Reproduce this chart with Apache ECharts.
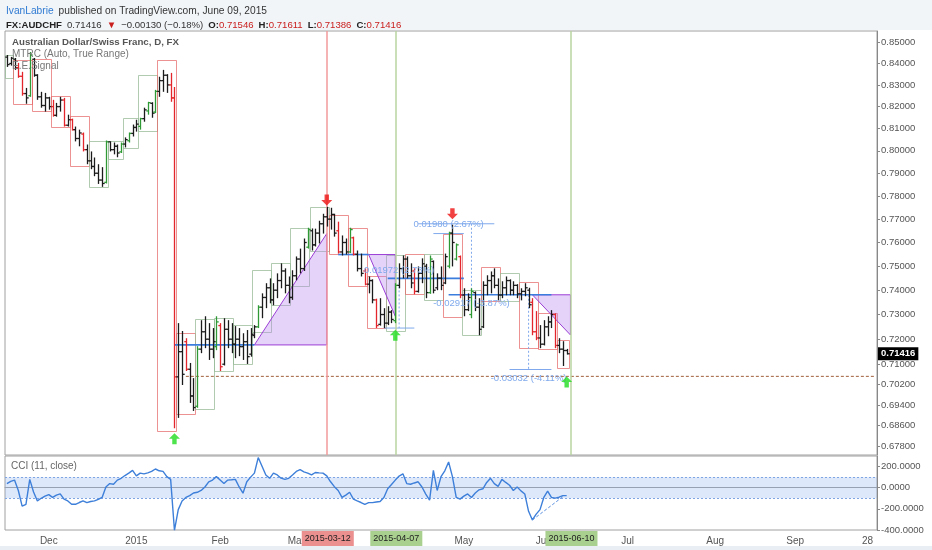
<!DOCTYPE html>
<html>
<head>
<meta charset="utf-8">
<title>AUDCHF daily</title>
<script src="https://cdn.jsdelivr.net/npm/echarts@6.0.0/dist/echarts.min.js"></script>
<style>
html,body{margin:0;padding:0;background:#fff;}
#chart{width:932px;height:550px;}
</style>
</head>
<body>
<div id="chart"></div>
<script>
// ---------- calendar (weekday trading days) ----------
const startDate = '2014-11-14';
const weekdayCount = 229;

// ---------- price bars [open, high, low, close] ----------
const ohlc = [
[.8430,.8440,.8384,.8395],[.8400,.8431,.8390,.8425],[.8420,.8426,.8370,.8380],[.8380,.8403,.8333,.8340],[.8340,.8361,.8250,.8260],
[.8260,.8286,.8213,.8240],[.8250,.8454,.8245,.8440],[.8420,.8426,.8338,.8345],[.8345,.8350,.8231,.8245],[.8245,.8268,.8195,.8205],
[.8205,.8263,.8177,.8240],[.8240,.8245,.8186,.8200],[.8200,.8231,.8154,.8160],[.8160,.8217,.8154,.8200],[.8200,.8245,.8177,.8230],
[.8230,.8240,.8109,.8115],[.8115,.8163,.8109,.8140],[.8140,.8145,.8091,.8095],[.8095,.8109,.8042,.8055],[.8055,.8095,.8020,.8080],
[.8075,.8082,.7997,.8005],[.8005,.8028,.7940,.7955],[.7955,.7997,.7918,.7930],[.7930,.7970,.7887,.7900],[.7900,.7940,.7853,.7870],
[.7870,.7927,.7840,.7855],[.7860,.8046,.7855,.8040],[.8040,.8042,.7997,.8005],[.8005,.8037,.7984,.8020],[.8020,.8028,.7971,.7990],
[.7995,.8037,.7990,.8030],[.8030,.8060,.8015,.8050],[.8045,.8082,.8037,.8078],[.8078,.8118,.8064,.8105],[.8105,.8140,.8086,.8120],
[.8110,.8149,.8095,.8145],[.8145,.8195,.8131,.8185],[.8180,.8222,.8163,.8218],[.8215,.8220,.8149,.8170],[.8175,.8277,.8170,.8270],
[.8270,.8338,.8245,.8320],[.8320,.8370,.8268,.8345],[.8345,.8350,.8263,.8300],[.8300,.8356,.8222,.8240],[.8240,.8290,.6850,.7050],
[.7050,.7265,.6890,.7150],[.7150,.7233,.7018,.7060],[.7190,.7204,.7073,.7080],[.7080,.7105,.6948,.6975],[.6975,.7045,.6917,.6930],
[.6935,.7172,.6929,.7160],[.7160,.7277,.7144,.7230],[.7230,.7293,.7164,.7200],[.7200,.7265,.7117,.7160],[.7160,.7245,.7124,.7190],
[.7170,.7293,.7156,.7270],[.7255,.7265,.7073,.7090],[.7100,.7285,.7095,.7240],[.7240,.7277,.7164,.7200],[.7200,.7265,.7144,.7180],
[.7180,.7253,.7124,.7200],[.7200,.7245,.7132,.7170],[.7170,.7224,.7117,.7190],[.7190,.7237,.7101,.7130],[.7140,.7245,.7130,.7220],
[.7215,.7257,.7204,.7250],[.7250,.7338,.7245,.7330],[.7330,.7387,.7285,.7370],[.7370,.7429,.7326,.7410],[.7410,.7449,.7346,.7360],
[.7360,.7429,.7338,.7400],[.7400,.7470,.7367,.7440],[.7440,.7512,.7408,.7480],[.7480,.7491,.7387,.7420],[.7420,.7457,.7346,.7370],
[.7370,.7483,.7360,.7460],[.7460,.7541,.7441,.7530],[.7530,.7574,.7470,.7490],[.7490,.7617,.7480,.7600],[.7580,.7663,.7574,.7655],
[.7650,.7660,.7566,.7590],[.7590,.7659,.7583,.7640],[.7640,.7693,.7596,.7680],[.7680,.7723,.7638,.7710],[.7710,.7753,.7668,.7700],
[.7700,.7749,.7655,.7720],[.7720,.7723,.7625,.7640],[.7650,.7689,.7553,.7560],[.7560,.7630,.7545,.7600],[.7600,.7617,.7549,.7560],
[.7560,.7663,.7555,.7655],[.7620,.7625,.7545,.7550],[.7550,.7566,.7478,.7490],[.7490,.7553,.7457,.7470],[.7480,.7491,.7420,.7425],
[.7425,.7457,.7387,.7440],[.7440,.7445,.7346,.7360],[.7360,.7365,.7245,.7255],[.7260,.7367,.7255,.7300],[.7300,.7326,.7245,.7265],
[.7265,.7334,.7257,.7310],[.7310,.7318,.7265,.7280],[.7275,.7429,.7265,.7420],[.7420,.7512,.7408,.7490],[.7490,.7545,.7449,.7530],
[.7530,.7541,.7449,.7460],[.7460,.7512,.7408,.7430],[.7480,.7491,.7383,.7395],[.7395,.7499,.7390,.7470],[.7470,.7533,.7429,.7510],
[.7500,.7510,.7367,.7390],[.7390,.7545,.7385,.7530],[.7520,.7524,.7387,.7400],[.7410,.7470,.7400,.7450],[.7450,.7499,.7400,.7420],
[.7430,.7553,.7425,.7540],[.7500,.7646,.7491,.7640],[.7640,.7676,.7499,.7600],[.7530,.7596,.7524,.7590],[.7540,.7545,.7367,.7380],
[.7380,.7408,.7293,.7320],[.7320,.7387,.7314,.7370],[.7300,.7408,.7285,.7395],[.7390,.7395,.7314,.7330],[.7330,.7367,.7216,.7240],
[.7250,.7437,.7245,.7420],[.7420,.7462,.7379,.7440],[.7440,.7478,.7387,.7460],[.7460,.7491,.7408,.7420],[.7420,.7449,.7358,.7380],
[.7380,.7437,.7367,.7410],[.7410,.7457,.7379,.7440],[.7440,.7445,.7379,.7400],[.7400,.7437,.7379,.7420],[.7420,.7425,.7367,.7385],
[.7385,.7408,.7358,.7395],[.7395,.7429,.7375,.7410],[.7400,.7410,.7326,.7340],[.7350,.7367,.7216,.7230],[.7230,.7314,.7196,.7205],
[.7205,.7257,.7164,.7180],[.7180,.7277,.7175,.7250],[.7250,.7293,.7212,.7270],[.7270,.7318,.7245,.7300],[.7300,.7305,.7164,.7175],
[.7175,.7204,.7144,.7160],[.7160,.7192,.7093,.71546],[.71546,.71611,.71386,.71416]
];

// E.E.Signal bar colouring: k = neutral, r = sell, g = buy
const barSignal = [
 'kkkrrkgkkk','kkrkkrkrkk','rkkkkkgkkk','gkgkkgkgkg','kkkrrkkrkk',
 'gkkkkgrkkk','kkkkkkgkkk','kkkkkkkkkg','kkkkkkkrkk','grkkrkkrkk',
 'kkgkkkkrkk','kgkkkkgkgr','kkgkkkkkkk','kkkkkkkkrr','kkkkrkkk'
].join('');

// MTRC range boxes [fromBar, toBar, low, high, kind]
const rangeBoxes = [
[0,1,.8333,.8440,'g'],[2,6,.8213,.8417,'r'],[7,11,.8181,.8421,'r'],[12,16,.8105,.8249,'r'],
[17,21,.7931,.8158,'r'],[22,26,.7840,.8046,'g'],[27,30,.7962,.8042,'g'],[31,34,.8015,.8149,'g'],
[35,39,.8091,.8347,'g'],[40,44,.6840,.8417,'r'],[45,49,.6906,.7224,'r'],[50,54,.6922,.7281,'g'],
[55,59,.7073,.7285,'g'],[60,64,.7101,.7257,'g'],[65,69,.7229,.7482,'g'],[70,74,.7338,.7512,'g'],
[75,79,.7420,.7663,'g'],[80,84,.7566,.7753,'g'],[85,89,.7553,.7719,'r'],[90,94,.7420,.7663,'r'],
[95,99,.7245,.7457,'r'],[100,104,.7233,.7549,'g'],[105,109,.7387,.7553,'r'],[110,114,.7362,.7553,'g'],
[115,119,.7293,.7638,'r'],[120,124,.7216,.7399,'g'],[125,129,.7354,.7495,'r'],[130,134,.7354,.7470,'g'],
[135,139,.7164,.7433,'r'],[140,144,.7160,.7305,'r'],[145,147,.7085,.7196,'r']
];

// CCI (11, close)
const cci = [
39,60,72,-26,-174,-157,79,-40,-125,-100,
-80,-66,-92,-70,-59,-108,-125,-157,-157,-140,
-125,-141,-130,-125,-110,-92,7,39,33,72,
89,115,138,164,112,138,131,140,154,177,
160,154,105,79,-403,-207,-125,-92,-75,-50,
-43,-26,7,56,72,105,72,39,72,75,
79,7,-52,56,100,138,285,203,120,89,
138,121,90,79,89,120,154,171,150,138,
121,144,140,138,112,56,10,-26,-92,-70,
-43,-108,-125,-140,-157,-141,-141,-135,-131,-92,
-10,30,72,110,131,39,33,45,56,7,
-60,-118,164,-26,105,160,243,105,-92,-108,
-80,-59,-92,-50,-20,-10,50,89,39,13,
79,50,23,-26,7,-30,-59,-223,-305,-250,
-207,-92,-33,-92,-98,-90,-75,-75
];
const cciBandUpper = 100;
const cciBandLower = -100;
const cciDivergence = [[138,-305],[146,-85]];

// drawings
const triangles = [
[[65,.7177],[84,.7638],[84,.7177]],
[[95,.7549],[102,.7549],[102,.7293]],
[[138,.7381],[148,.7381],[148,.7217]]
];
const trendLines = [[44,.7177,65,.7177],[87,.7549,95,.7549],[100,.7449,120,.7449],[116,.7381,143,.7381]];
const measureLines = [[99,.7245,107,.7245],[108,.7680,128,.7680],[112,.7638,120,.7638],[132,.7079,143,.7079]];
const measureDrops = [[103,.7449,103,.7245],[122,.7680,122,.7381],[137,.7381,137,.7079]];
const measureTexts = [[103,.7483,'0.01972 (2.73%)'],[116,.7676,'0.01980 (2.67%)'],[122,.7346,'-0.02917 (-3.87%)'],[137,.7045,'-0.03032 (-4.11%)']];
const buyArrows = [[44,.6810],[102,.7216],[147,.7030]];
const sellArrows = [[84,.7783],[117,.7723]];
const supportLevel = 0.7052;
const supportFrom = 47;
const eventDates = ['2015-03-12','2015-04-07','2015-06-10'];
const eventKinds = ['sell','buy','buy'];

// axis ticks
const priceTicks = [0.85,0.84,0.83,0.82,0.81,0.80,0.79,0.78,0.77,0.76,0.75,0.74,0.73,0.72,0.71,0.702,0.694,0.686,0.678];
const cciTicks = [200,0,-200,-400];
const dateLabels = [['2014-12-01','Dec'],['2015-01-01','2015'],['2015-02-02','Feb'],['2015-03-02','Mar'],['2015-04-01','Apr'],
  ['2015-05-01','May'],['2015-06-01','Jun'],['2015-07-01','Jul'],['2015-08-03','Aug'],['2015-09-01','Sep'],['2015-09-28','28']];

// ---------- build ----------
function buildDays() {
  const out = [];
  const d = new Date(startDate + 'T00:00:00Z');
  while (out.length < weekdayCount) {
    const wd = d.getUTCDay();
    if (wd !== 0 && wd !== 6) out.push(d.toISOString().slice(0, 10));
    d.setUTCDate(d.getUTCDate() + 1);
  }
  return out;
}
const days = buildDays();
const labelMap = new Map(dateLabels);
const FONT = 'Liberation Sans, Arial, sans-serif';
const SIG = {k: 0, r: 1, g: 2};
const SIG_COLORS = ['#1b1b1b', '#e3262b', '#2f9a35'];

const last = ohlc[ohlc.length - 1];
const lastIdx = ohlc.length - 1;
const prevClose = ohlc[ohlc.length - 2][3];
const chg = last[3] - prevClose;
const fmt5 = v => v.toFixed(5);
const signed = v => (v < 0 ? '\u2212' : '+') + Math.abs(v).toFixed(5);
const pct = (chg / prevClose * 100);
const pctTxt = (pct < 0 ? '\u2212' : '+') + Math.abs(pct).toFixed(2) + '%';

const chart = echarts.init(document.getElementById('chart'));

function renderBar(params, api) {
  const i = api.value(0);
  const pO = api.coord([i, api.value(1)]);
  const pH = api.coord([i, api.value(2)]);
  const pL = api.coord([i, api.value(3)]);
  const pC = api.coord([i, api.value(4)]);
  const col = SIG_COLORS[api.value(5)];
  const x = Math.round(pH[0]) + 0.5;
  const w = 1.3;
  return {type: 'group', children: [
    {type: 'line', shape: {x1: x, y1: pH[1], x2: x, y2: pL[1]}, style: {stroke: col, lineWidth: w}},
    {type: 'line', shape: {x1: x - 2.2, y1: pO[1], x2: x, y2: pO[1]}, style: {stroke: col, lineWidth: w}},
    {type: 'line', shape: {x1: x, y1: pC[1], x2: x + 2.2, y2: pC[1]}, style: {stroke: col, lineWidth: w}}
  ]};
}
function renderBox(params, api) {
  const a = api.coord([api.value(0), api.value(3)]);
  const b = api.coord([api.value(1), api.value(2)]);
  const col = api.value(4) === 1 ? 'rgba(230,100,100,0.7)' : 'rgba(150,185,150,0.75)';
  return {type: 'rect', shape: {x: Math.round(a[0] - 2) + 0.5, y: Math.round(a[1]) + 0.5,
    width: Math.round(b[0] - a[0] + 4), height: Math.round(b[1] - a[1])},
    style: {fill: 'none', stroke: col, lineWidth: 1}};
}
function renderTriangle(params, api) {
  const pts = [0, 1, 2].map(k => api.coord([api.value(k * 2), api.value(k * 2 + 1)]));
  return {type: 'polygon', shape: {points: pts}, style: {fill: 'rgba(190,140,240,0.38)', stroke: '#9b3fd6', lineWidth: 1}};
}
function renderSegment(params, api) {
  const a = api.coord([api.value(0), api.value(1)]);
  const b = api.coord([api.value(2), api.value(3)]);
  const kind = api.value(4);
  const style = kind === 0 ? {stroke: '#3b7ddd', lineWidth: 1.6}
    : kind === 1 ? {stroke: '#7fa9ec', lineWidth: 1}
    : {stroke: '#7fa9ec', lineWidth: 1, lineDash: [2, 2]};
  return {type: 'line', shape: {x1: a[0], y1: a[1], x2: b[0], y2: b[1]}, style: style};
}
function renderText(params, api) {
  const p = api.coord([api.value(0), api.value(1)]);
  return {type: 'text', x: p[0], y: p[1], style: {text: measureTexts[params.dataIndex][2], fill: '#7fa9ec',
    font: '9.5px ' + FONT, align: 'center', verticalAlign: 'middle'}};
}
function renderLastPrice(params, api) {
  const p = api.coord([api.value(0), api.value(1)]);
  const cs = params.coordSys;
  return {type: 'text', x: cs.x + cs.width + 1, y: p[1], z2: 100, style: {text: fmt5(api.value(1)), fill: '#fff',
    font: 'bold 9.5px ' + FONT, align: 'left', verticalAlign: 'middle', backgroundColor: '#000', padding: [2, 3, 1, 3]}};
}
const eventColor = k => (k === 'sell' ? '#f29a9a' : '#b9d59f');
const eventBoxColor = k => (k === 'sell' ? '#ec8f8f' : '#a9d08f');
function renderDateBox(params, api) {
  const p = api.coord([api.value(0), -400]);
  const k = params.dataIndex;
  return {type: 'text', x: p[0] + 1, y: p[1] + 1, z2: 100, style: {text: eventDates[k], fill: '#222', font: '9px ' + FONT,
    align: 'center', verticalAlign: 'top', backgroundColor: eventBoxColor(eventKinds[k]), padding: [3, 3, 3, 3]}};
}

const segData = []
  .concat(trendLines.map(s => s.concat([0])))
  .concat(measureLines.map(s => s.concat([1])))
  .concat(measureDrops.map(s => s.concat([2])));

const arrowPath = 'path://M5,0 L10,5 L7,5 L7,10 L3,10 L3,5 L0,5 Z';

const option = {
  animation: false,
  backgroundColor: '#ffffff',
  textStyle: {fontFamily: FONT},
  title: [
    {left: 6, top: 2, padding: 0,
     text: '{u|IvanLabrie} {t|published on TradingView.com, June 09, 2015}',
     textStyle: {fontWeight: 'normal', rich: {
       u: {color: '#2f7bd2', fontSize: 10.2, fontWeight: 'normal', fontFamily: FONT},
       t: {color: '#333', fontSize: 10.2, fontWeight: 'normal', fontFamily: FONT}}}},
    {left: 6, top: 16, padding: 0,
     text: '{b|FX:AUDCHF} {n|' + fmt5(last[3]) + '} {r|\u25BC} {n|' + signed(chg) + ' (' + pctTxt + ')} ' +
           '{b|O:}{v|' + fmt5(last[0]) + '} {b|H:}{v|' + fmt5(last[1]) + '} {b|L:}{v|' + fmt5(last[2]) + '} {b|C:}{v|' + fmt5(last[3]) + '}',
     textStyle: {fontWeight: 'normal', rich: {
       b: {color: '#222', fontWeight: 'bold', fontSize: 9.6, fontFamily: FONT},
       n: {color: '#333', fontWeight: 'normal', fontSize: 9.6, fontFamily: FONT},
       r: {color: '#c9201f', fontWeight: 'normal', fontSize: 9.6, fontFamily: FONT},
       v: {color: '#c9201f', fontWeight: 'normal', fontSize: 9.6, fontFamily: FONT}}}}
  ],
  graphic: [
    {type: 'rect', left: 0, top: 0, z: -10, shape: {width: 932, height: 30}, style: {fill: '#f2f5f8'}},
    {type: 'rect', left: 0, top: 546, z: -10, shape: {width: 932, height: 4}, style: {fill: '#e8eef4'}},
    {type: 'text', left: 12, top: 37, z: 10, style: {text: 'Australian Dollar/Swiss Franc, D, FX', fill: '#555', font: 'bold 9.7px ' + FONT}},
    {type: 'text', left: 12, top: 49, z: 10, style: {text: 'MTRC (Auto, True Range)', fill: '#777', font: '10px ' + FONT}},
    {type: 'text', left: 12, top: 61, z: 10, style: {text: 'E.E.Signal', fill: '#777', font: '10px ' + FONT}},
    {type: 'text', left: 11, top: 461, z: 10, style: {text: 'CCI (11, close)', fill: '#666', font: '10px ' + FONT}}
  ],
  grid: [
    {left: 5, right: 55, top: 31, height: 424, show: true, backgroundColor: '#fff', borderColor: '#a0a0a0', borderWidth: 1},
    {left: 5, right: 55, top: 456, height: 74, show: true, backgroundColor: '#fff', borderColor: '#a0a0a0', borderWidth: 1}
  ],
  xAxis: [
    {type: 'category', gridIndex: 0, data: days, boundaryGap: true,
     axisLine: {show: false}, axisTick: {show: false}, axisLabel: {show: false}, splitLine: {show: false}},
    {type: 'category', gridIndex: 1, data: days, boundaryGap: true,
     axisLine: {show: true, lineStyle: {color: '#a0a0a0'}}, axisTick: {show: false},
     axisLabel: {interval: (idx, val) => labelMap.has(val), formatter: val => labelMap.get(val) || '',
       color: '#555', fontSize: 10, margin: 6, fontFamily: FONT},
     splitLine: {show: false}}
  ],
  yAxis: [
    {type: 'log', gridIndex: 0, position: 'right', min: 0.67486, max: 0.8554,
     axisLine: {show: true, lineStyle: {color: '#888'}},
     axisTick: {show: true, customValues: priceTicks, length: 3, lineStyle: {color: '#888'}},
     axisLabel: {customValues: priceTicks, formatter: v => Number(v).toFixed(5), color: '#555', fontSize: 9.5, margin: 4, fontFamily: FONT},
     splitLine: {show: false}},
    {type: 'value', gridIndex: 1, position: 'right', min: -400, max: 300,
     axisLine: {show: true, lineStyle: {color: '#888'}},
     axisTick: {show: true, customValues: cciTicks, length: 3, lineStyle: {color: '#888'}},
     axisLabel: {customValues: cciTicks, formatter: v => Number(v).toFixed(4), color: '#555', fontSize: 9.5, margin: 4, fontFamily: FONT},
     splitLine: {show: false}}
  ],
  series: [
    {name: 'events', type: 'line', xAxisIndex: 0, yAxisIndex: 0, z: 1,
     data: [[supportFrom, supportLevel], [days.length - 1, supportLevel]],
     symbol: 'none', lineStyle: {color: '#a0603a', width: 1, type: [3, 2]},
     markLine: {silent: true, symbol: 'none', animation: false,
       data: eventDates.map((d, k) => ({xAxis: d, lineStyle: {color: eventColor(eventKinds[k]), width: 1.5, type: 'solid'}, label: {show: false}}))}},
    {name: 'ranges', type: 'custom', xAxisIndex: 0, yAxisIndex: 0, z: 2,
     data: rangeBoxes.map(b => [b[0], b[1], b[2], b[3], b[4] === 'r' ? 1 : 2]),
     encode: {x: [0, 1], y: [2, 3]}, renderItem: renderBox, silent: true},
    {name: 'triangles', type: 'custom', xAxisIndex: 0, yAxisIndex: 0, z: 3,
     data: triangles.map(t => [t[0][0], t[0][1], t[1][0], t[1][1], t[2][0], t[2][1]]),
     encode: {x: [0, 2, 4], y: [1, 3, 5]}, renderItem: renderTriangle, silent: true},
    {name: 'lines', type: 'custom', xAxisIndex: 0, yAxisIndex: 0, z: 4,
     data: segData, encode: {x: [0, 2], y: [1, 3]}, renderItem: renderSegment, silent: true},
    {name: 'AUDCHF', type: 'custom', xAxisIndex: 0, yAxisIndex: 0, z: 5,
     data: ohlc.map((b, i) => [i, b[0], b[1], b[2], b[3], SIG[barSignal[i]]]),
     encode: {x: 0, y: [1, 2, 3, 4]}, renderItem: renderBar},
    {name: 'measure text', type: 'custom', xAxisIndex: 0, yAxisIndex: 0, z: 6,
     data: measureTexts.map(t => [t[0], t[1]]), encode: {x: 0, y: 1}, renderItem: renderText, silent: true},
    {name: 'buy', type: 'scatter', xAxisIndex: 0, yAxisIndex: 0, z: 7, data: buyArrows,
     symbol: arrowPath, symbolSize: [11, 11], itemStyle: {color: '#1fdc1f'}},
    {name: 'sell', type: 'scatter', xAxisIndex: 0, yAxisIndex: 0, z: 7, data: sellArrows,
     symbol: arrowPath, symbolSize: [11, 11], symbolRotate: 180, itemStyle: {color: '#ee1111'}},
    {name: 'last price', type: 'custom', xAxisIndex: 0, yAxisIndex: 0, z: 20, clip: false,
     data: [[lastIdx, last[3]]], encode: {x: 0, y: 1}, renderItem: renderLastPrice, silent: true},
    {name: 'CCI', type: 'line', xAxisIndex: 1, yAxisIndex: 1, z: 5,
     data: cci.map((v, i) => [i, v]), symbol: 'none',
     lineStyle: {color: '#3d7fd9', width: 1.4},
     markArea: {silent: true, itemStyle: {color: 'rgba(120,165,240,0.25)'},
       data: [[{yAxis: cciBandUpper}, {yAxis: cciBandLower}]]},
     markLine: {silent: true, symbol: 'none', animation: false,
       data: [
         {yAxis: cciBandUpper, lineStyle: {color: '#7fa5e3', type: [2, 2], width: 1}, label: {show: false}},
         {yAxis: cciBandLower, lineStyle: {color: '#7fa5e3', type: [2, 2], width: 1}, label: {show: false}}
       ]}},
    {name: 'divergence', type: 'line', xAxisIndex: 1, yAxisIndex: 1, z: 6,
     data: cciDivergence, symbol: 'none', lineStyle: {color: '#5a8fe0', width: 1, type: [3, 2]}},
    {name: 'event dates', type: 'custom', xAxisIndex: 1, yAxisIndex: 1, z: 20, clip: false,
     data: eventDates.map(d => [days.indexOf(d)]), encode: {x: 0}, renderItem: renderDateBox, silent: true}
  ]
};
chart.setOption(option);
</script>
</body>
</html>
